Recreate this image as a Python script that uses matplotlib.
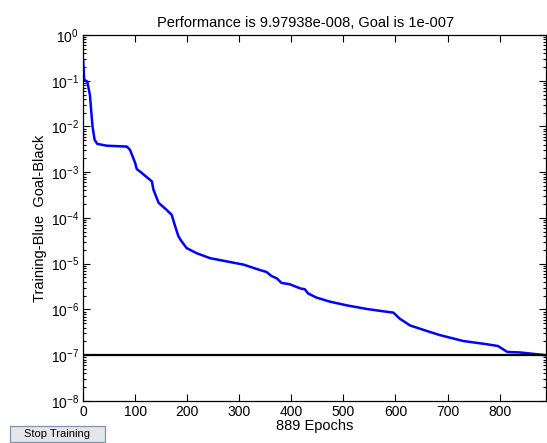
import numpy as np
import matplotlib
matplotlib.use("Agg")
import matplotlib.pyplot as plt
from matplotlib.patches import FancyBboxPatch

plt.rcParams['font.family'] = ['Liberation Sans', 'DejaVu Sans']
plt.rcParams['mathtext.default'] = 'regular'

# training performance (epoch, mse)
epochs = [0, 2, 8, 13, 18, 22, 27, 45, 84, 90, 100, 103, 113, 132, 135, 145,
          160, 170, 177, 183, 189, 199, 218, 244, 276, 308, 340, 352, 362,
          372, 381, 397, 417, 426, 432, 448, 474, 506, 545, 576, 596, 608,
          628, 660, 685, 730, 775, 797, 815, 839, 889]
log_perf = [-0.55, -0.98, -1.02, -1.31, -2.0, -2.29, -2.38, -2.42, -2.44,
            -2.51, -2.80, -2.93, -3.02, -3.20, -3.38, -3.67, -3.82, -3.93,
            -4.19, -4.40, -4.51, -4.66, -4.77, -4.88, -4.95, -5.02, -5.14,
            -5.18, -5.27, -5.32, -5.42, -5.45, -5.54, -5.56, -5.65, -5.74,
            -5.83, -5.91, -5.99, -6.04, -6.07, -6.20, -6.35, -6.47, -6.56,
            -6.69, -6.76, -6.80, -6.93, -6.94, -7.0009]
perf = [10 ** v for v in log_perf]
goal = 1e-7
n_epochs = 889

fig = plt.figure(figsize=(5.47, 4.43), dpi=100)
ax = fig.add_axes([0.152, 0.095, 0.846, 0.826])

ax.semilogy(epochs, perf, color='#0000ff', linewidth=1.8)
ax.plot([0, n_epochs], [goal, goal], color='black', linewidth=1.6)

ax.set_xlim(0, n_epochs)
ax.set_ylim(1e-8, 1e0)
ax.set_xticks(range(0, 900, 100))
ax.set_yticks([10.0 ** k for k in range(-8, 1)])

ax.tick_params(which='both', direction='in', top=True, right=True,
               labelsize=10, width=0.8, pad=3)
ax.tick_params(which='major', length=5)
ax.tick_params(which='minor', length=2.5)
for s in ax.spines.values():
    s.set_linewidth(0.9)

ax.set_title('Performance is 9.97938e-008, Goal is 1e-007', fontsize=10.5,
             pad=6, x=0.48)
ax.set_xlabel('889 Epochs', fontsize=10.5, labelpad=0)
ax.set_ylabel('Training-Blue  Goal-Black', fontsize=10.5, labelpad=3)

# "Stop Training" button
btn = FancyBboxPatch((10 / 547, 1 / 443), 95 / 547, 16 / 443,
                     boxstyle='square,pad=0', transform=fig.transFigure,
                     facecolor='#e4e6ea', edgecolor='#7f93b8', linewidth=0.9)
fig.patches.append(btn)
fig.text(57 / 547, 9 / 443, 'Stop Training', fontsize=8, ha='center', va='center')

fig.savefig('out.png', dpi=100)
